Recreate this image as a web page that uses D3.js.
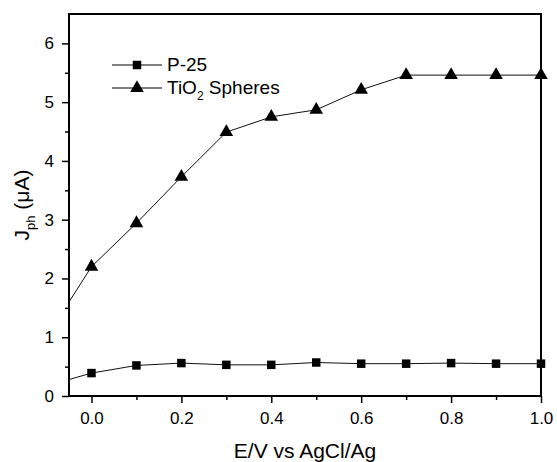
<!DOCTYPE html>
<html>
<head>
<meta charset="utf-8">
<script src="https://cdn.jsdelivr.net/npm/d3@7"></script>
<style>
  body { margin: 0; background: #fff; }
  text { font-family: Arial, "Liberation Sans", sans-serif; fill: #000; }
</style>
</head>
<body>
<div id="chart"></div>
<script>
// potential (V) and photocurrent values
const potentials = [-0.05, 0.0, 0.1, 0.2, 0.3, 0.4, 0.5, 0.6, 0.7, 0.8, 0.9, 1.0];
const p25 = [0.28, 0.39, 0.52, 0.56, 0.53, 0.53, 0.57, 0.55, 0.55, 0.56, 0.55, 0.55];
const spheres = [1.6, 2.2, 2.94, 3.73, 4.49, 4.75, 4.87, 5.21, 5.46, 5.46, 5.46, 5.46];
const xTicks = [0.0, 0.2, 0.4, 0.6, 0.8, 1.0];
const yTicks = [0, 1, 2, 3, 4, 5, 6];

const width = 557, height = 462;
const margin = { top: 14, right: 16, bottom: 66, left: 69 };

const svg = d3.select('#chart').append('svg')
  .attr('width', width)
  .attr('height', height);

const x = d3.scaleLinear().domain([-0.05, 1.0]).range([margin.left, width - margin.right]);
const y = d3.scaleLinear().domain([0, 6.5]).range([height - margin.bottom, margin.top]);

// minor ticks first, then major with labels
svg.append('g')
  .attr('transform', `translate(0,${height - margin.bottom})`)
  .call(d3.axisBottom(x).tickValues([0.1, 0.3, 0.5, 0.7, 0.9]).tickSize(4).tickFormat(''))
  .call(g => g.select('.domain').remove());
svg.append('g')
  .attr('transform', `translate(${margin.left},0)`)
  .call(d3.axisLeft(y).tickValues([0.5, 1.5, 2.5, 3.5, 4.5, 5.5]).tickSize(4).tickFormat(''))
  .call(g => g.select('.domain').remove());

const xAxis = svg.append('g')
  .attr('transform', `translate(0,${height - margin.bottom})`)
  .call(d3.axisBottom(x).tickValues(xTicks).tickSize(7).tickPadding(9).tickFormat(d3.format('.1f')));
xAxis.select('.domain').remove();
xAxis.selectAll('text').style('font-size', '17px');

const yAxis = svg.append('g')
  .attr('transform', `translate(${margin.left},0)`)
  .call(d3.axisLeft(y).tickValues(yTicks).tickSize(7).tickPadding(8).tickFormat(d3.format('d')));
yAxis.select('.domain').remove();
yAxis.selectAll('text').style('font-size', '17px');

svg.selectAll('.tick line').attr('stroke-width', 1.5);

// frame
svg.append('rect')
  .attr('x', margin.left)
  .attr('y', margin.top)
  .attr('width', width - margin.left - margin.right)
  .attr('height', height - margin.top - margin.bottom)
  .attr('fill', 'none')
  .attr('stroke', '#000')
  .attr('stroke-width', 2);

const plot = svg.append('g');

const line = d3.line()
  .x((d, i) => x(potentials[i]))
  .y(d => y(d));

plot.append('path')
  .datum(p25)
  .attr('d', line)
  .attr('fill', 'none')
  .attr('stroke', '#111')
  .attr('stroke-width', 1);

plot.append('path')
  .datum(spheres)
  .attr('d', line)
  .attr('fill', 'none')
  .attr('stroke', '#111')
  .attr('stroke-width', 1);

const square = d3.symbol().type(d3.symbolSquare).size(72);
const triangle = d3.symbol().type(d3.symbolTriangle).size(80);

// markers only at the measured potentials (not the start of the line at the axis)
plot.selectAll('.sq')
  .data(p25.slice(1))
  .enter()
  .append('path')
  .attr('class', 'sq')
  .attr('d', square)
  .attr('transform', (d, i) => `translate(${x(potentials[i + 1])},${y(d)})`)
  .attr('fill', '#000');

plot.selectAll('.tri')
  .data(spheres.slice(1))
  .enter()
  .append('path')
  .attr('class', 'tri')
  .attr('d', triangle)
  .attr('transform', (d, i) => `translate(${x(potentials[i + 1])},${y(d)})`)
  .attr('fill', '#000');

// legend
const legend = svg.append('g');
const legendItems = [
  { sym: square, yPos: 65 },
  { sym: triangle, yPos: 88 }
];
legendItems.forEach(item => {
  legend.append('line')
    .attr('x1', 112).attr('x2', 162)
    .attr('y1', item.yPos).attr('y2', item.yPos)
    .attr('stroke', '#000').attr('stroke-width', 1);
  legend.append('path')
    .attr('d', item.sym)
    .attr('transform', `translate(137,${item.yPos})`)
    .attr('fill', '#000');
});
legend.append('text')
  .attr('x', 167).attr('y', 71)
  .style('font-size', '19px')
  .text('P-25');
const tio = legend.append('text')
  .attr('x', 167).attr('y', 94)
  .style('font-size', '19px');
tio.append('tspan').text('TiO');
tio.append('tspan').attr('dy', 6).style('font-size', '12px').text('2');
tio.append('tspan').attr('dy', -6).text(' Spheres');

// axis titles
svg.append('text')
  .attr('x', (margin.left + width - margin.right) / 2)
  .attr('y', 458)
  .attr('text-anchor', 'middle')
  .style('font-size', '21px')
  .text('E/V vs AgCl/Ag');

const yTitle = svg.append('text')
  .attr('transform', `translate(29,${(margin.top + height - margin.bottom) / 2}) rotate(-90)`)
  .attr('text-anchor', 'middle')
  .style('font-size', '21px');
yTitle.append('tspan').text('J');
yTitle.append('tspan').attr('dy', 6).style('font-size', '13px').text('ph');
yTitle.append('tspan').attr('dy', -6).text(' (\u03bcA)');
</script>
</body>
</html>
